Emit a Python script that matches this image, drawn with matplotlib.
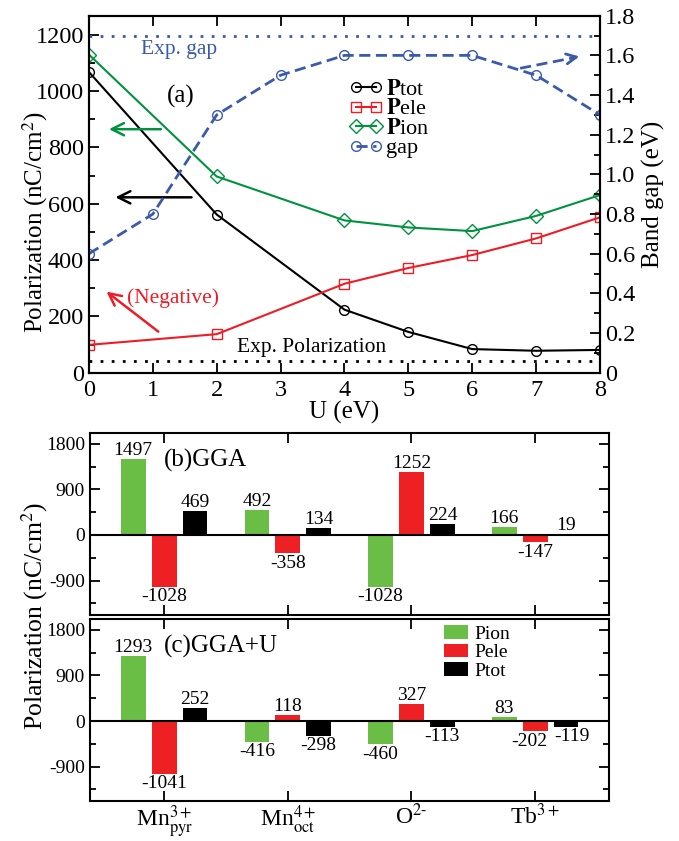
import numpy as np
import matplotlib.pyplot as plt
from matplotlib.ticker import MultipleLocator

plt.rcParams['font.family'] = ['Liberation Serif', 'DejaVu Serif']
plt.rcParams['mathtext.fontset'] = 'stix'
plt.rcParams['axes.unicode_minus'] = False

# panel (a) data
U = [0, 2, 4, 5, 6, 7, 8]
p_tot = [1068, 562, 224, 145, 84, 78, 81]
p_ele = [99, 137, 316, 372, 418, 477, 552]
p_ion = [1130, 697, 541, 516, 503, 557, 631]
U_gap = [0, 1, 2, 3, 4, 5, 6, 7, 8]
gap = [0.6, 0.8, 1.3, 1.5, 1.6, 1.6, 1.6, 1.5, 1.3]
exp_gap = 1.7
exp_pol = 40

# panels (b) and (c) data
ions = [r'Mn$_{\rm pyr}^{3+}$', r'Mn$_{\rm oct}^{4+}$', r'O$^{2\text{-}}$', r'Tb$^{3+}$']
gga_ion = [1497, 492, -1028, 166]
gga_ele = [-1028, -358, 1252, -147]
gga_tot = [469, 134, 224, 19]
ggau_ion = [1293, -416, -460, 83]
ggau_ele = [-1041, 118, 327, -202]
ggau_tot = [252, -298, -113, -119]

c_black = 'black'
c_red = '#ee1c25'
c_green = '#00923f'
c_blue = '#3a5aae'
bar_green = '#6abd45'
bar_red = '#ed2024'

fig = plt.figure(figsize=(6.79, 8.41), dpi=100)

# ---------------- panel (a) ----------------
ax = fig.add_axes([0.131, 0.5568, 0.7526, 0.4245])
ax2 = ax.twinx()

l1, = ax.plot(U, p_tot, '-o', color=c_black, lw=1.5, ms=7, mfc='none', mew=1, label=r'$\mathbf{P}$tot')
l2, = ax.plot(U, p_ele, '-s', color=c_red, lw=1.5, ms=7, mfc='none', mew=1, label=r'$\mathbf{P}$ele')
l3, = ax.plot(U, p_ion, '-D', color=c_green, lw=1.5, ms=7, mfc='none', mew=1, label=r'$\mathbf{P}$ion')
l4, = ax2.plot(U_gap, gap, '--o', color=c_blue, lw=2, ms=7, mfc='none', mew=1, dashes=(4, 2), label='gap')

ax.axhline(exp_pol, color='black', lw=2, dashes=(1, 3))
ax2.axhline(exp_gap, color=c_blue, lw=2, dashes=(1, 3))

ax.set_xlim(0, 8)
ax.set_ylim(0, 1268)
ax2.set_ylim(0, 1.8)
ax.xaxis.set_major_locator(MultipleLocator(1))
ax.yaxis.set_major_locator(MultipleLocator(200))
ax.yaxis.set_minor_locator(MultipleLocator(100))
ax2.yaxis.set_minor_locator(MultipleLocator(0.1))
ax2.set_yticks([0, 0.2, 0.4, 0.6, 0.8, 1.0, 1.2, 1.4, 1.6, 1.8])
ax2.set_yticklabels(['0', '0.2', '0.4', '0.6', '0.8', '1.0', '1.2', '1.4', '1.6', '1.8'])

ax.tick_params(axis='both', which='both', direction='in', top=True, labelsize=17.5, width=1.3)
ax.tick_params(which='major', length=7)
ax.tick_params(which='minor', length=4)
ax.tick_params(axis='x', pad=5)
ax2.tick_params(axis='y', which='both', direction='in', labelsize=17.5, width=1.3)
ax2.tick_params(which='major', length=7)
ax2.tick_params(which='minor', length=4)
for a in (ax, ax2):
    for s in a.spines.values():
        s.set_linewidth(1.5)

ax.set_xlabel('U (eV)', fontsize=18, labelpad=0)
ax2.set_ylabel('Band gap (eV)', fontsize=18, labelpad=5)
fig.text(0.051, 0.736, r'Polarization (nC/cm$^2$)', rotation=90, fontsize=18,
         ha='center', va='center')

ax.text(0.81, 1149, 'Exp. gap', color=c_blue, fontsize=15.5, ha='left', va='center')
ax.text(1.44, 981, '(a)', fontsize=18, ha='center', va='center')
ax.text(2.31, 89, 'Exp. Polarization', fontsize=15.5, ha='left', va='center')
ax.text(0.59, 264, '(Negative)', color=c_red, fontsize=15.5, ha='left', va='center')

arrow = dict(arrowstyle='->', lw=1.8, mutation_scale=22)
ax.annotate('', xy=(0.27, 865), xytext=(1.17, 865), arrowprops=dict(arrow, color=c_green))
ax.annotate('', xy=(0.37, 623), xytext=(1.65, 623), arrowprops=dict(arrow, color=c_black))
ax.annotate('', xy=(0.24, 294), xytext=(1.12, 140), arrowprops=dict(arrow, color=c_red))
ax2.plot([6.75, 7.62], [1.535, 1.59], color=c_blue, lw=2, dashes=(4, 2))
ax2.annotate('', xy=(7.72, 1.597), xytext=(7.5, 1.584),
             arrowprops=dict(arrowstyle='->', lw=2, mutation_scale=18, color=c_blue))

ax2.legend(handles=[l1, l2, l3, l4], loc='upper left', bbox_to_anchor=(0.48, 0.865),
           frameon=False, fontsize=16, numpoints=2, handlelength=1.5,
           handletextpad=0.15, labelspacing=-0.05, borderpad=0.2)


# ---------------- panels (b) and (c) ----------------
# small sideways nudges (points) for crowded value labels
nudge = {-202: -4, -119: 4}


def draw_panel(a, ion, ele, tot, title, show_labels):
    x = np.arange(1, len(ions) + 1)
    w = 0.2
    a.bar(x - 0.25, ion, w, color=bar_green, label='Pion')
    a.bar(x, ele, w, color=bar_red, label='Pele')
    a.bar(x + 0.25, tot, w, color='black', label='Ptot')
    a.axhline(0, color='black', lw=1.5)
    for xs, vals in ((x - 0.25, ion), (x, ele), (x + 0.25, tot)):
        for xi, v in zip(xs, vals):
            dx = nudge.get(v, 0)
            if v >= 0:
                a.annotate(str(v), (xi, v), xytext=(dx, 0), textcoords='offset points',
                           ha='center', va='bottom', fontsize=14)
            else:
                a.annotate(str(v), (xi, v), xytext=(dx, -1), textcoords='offset points',
                           ha='center', va='top', fontsize=14)
    a.text(1.0, 1470, title, fontsize=18, ha='left', va='center')
    a.set_xlim(0.4, 4.6)
    a.set_ylim(-1575, 2022)
    a.set_xticks(x)
    if show_labels:
        a.set_xticklabels(ions, fontsize=17)
    else:
        a.set_xticklabels([])
    a.yaxis.set_major_locator(MultipleLocator(900))
    a.yaxis.set_minor_locator(MultipleLocator(450))
    a.tick_params(axis='both', which='both', direction='in', top=True, right=True,
                  labelsize=14, width=1.3)
    a.tick_params(axis='x', labelsize=17, pad=2)
    a.tick_params(which='major', length=7)
    a.tick_params(which='minor', length=4)
    for s in a.spines.values():
        s.set_linewidth(1.5)


axb = fig.add_axes([0.1325, 0.2691, 0.7649, 0.2164])
axc = fig.add_axes([0.1325, 0.0479, 0.7649, 0.2164])
draw_panel(axb, gga_ion, gga_ele, gga_tot, '(b)GGA', False)
draw_panel(axc, ggau_ion, ggau_ele, ggau_tot, '(c)GGA+U', True)

axc.legend(loc='upper left', bbox_to_anchor=(0.655, 1.04), frameon=False, fontsize=14,
           handlelength=1.25, handleheight=0.7, handletextpad=0.3, labelspacing=0.05,
           borderpad=0.2)

fig.text(0.051, 0.2676, r'Polarization (nC/cm$^2$)', rotation=90, fontsize=18.5,
         ha='center', va='center')

fig.savefig('out.png', dpi=100)
